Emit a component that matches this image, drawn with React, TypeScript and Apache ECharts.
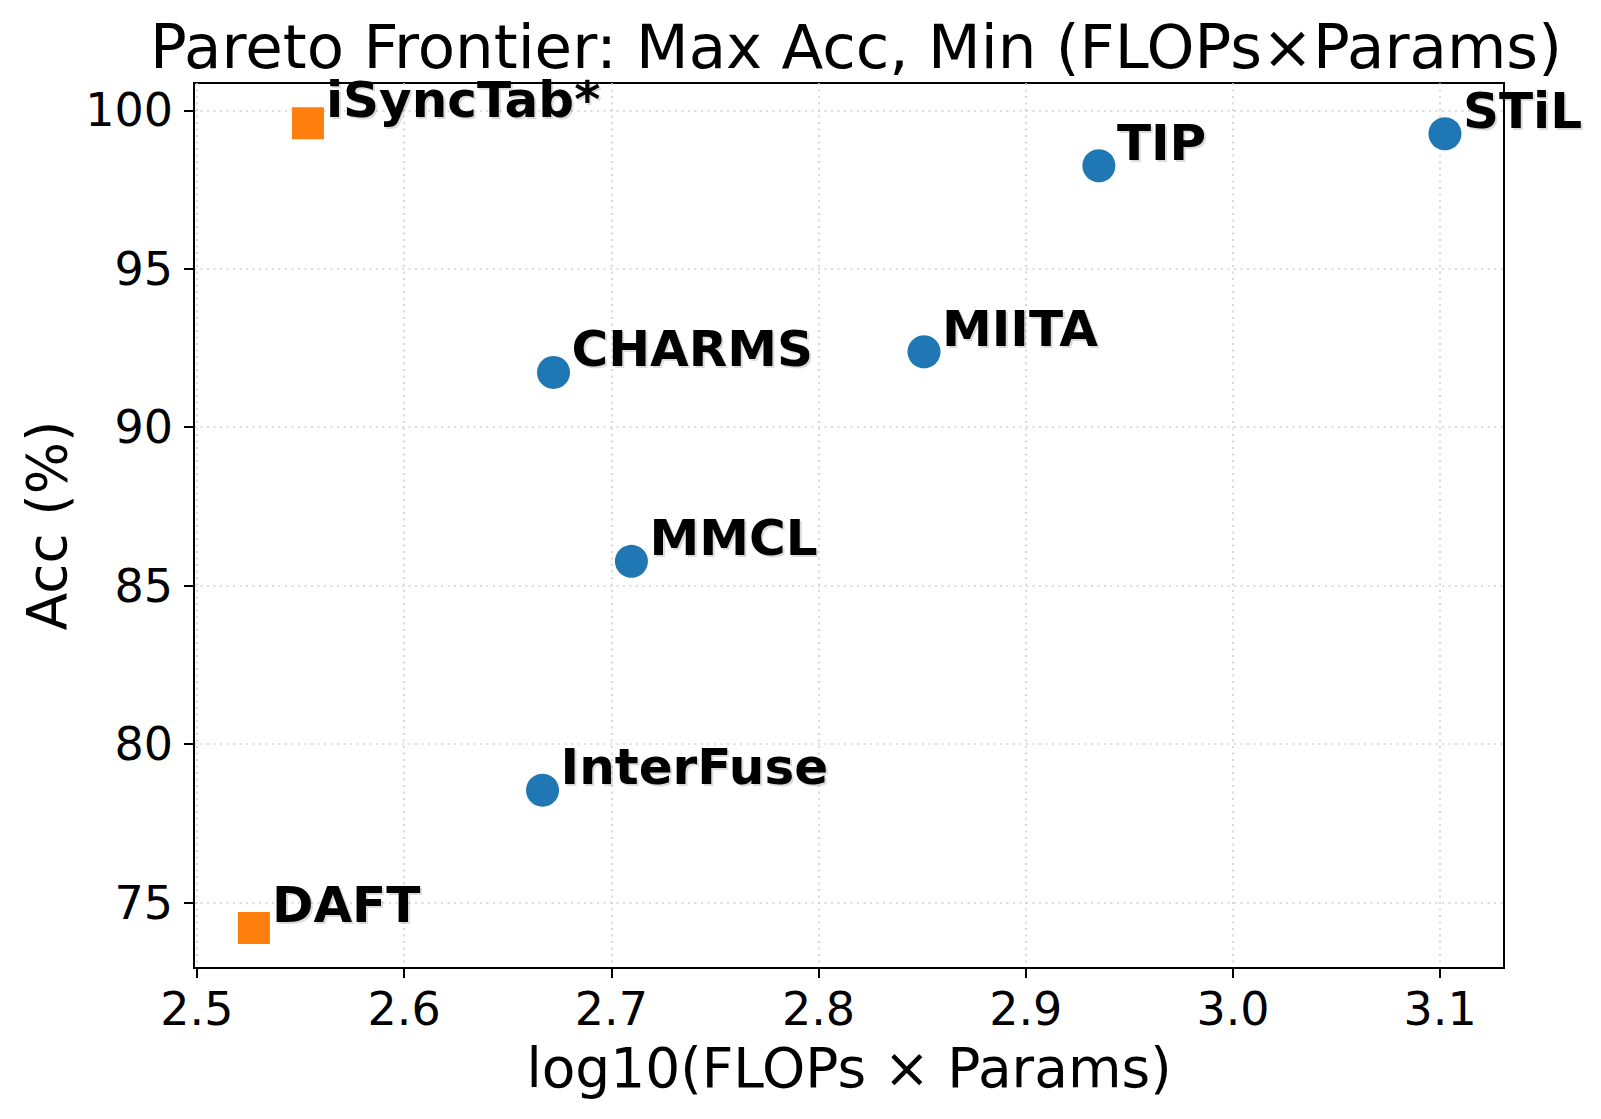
import { useEffect, useRef } from "react";
import * as echarts from "echarts";

// models, log10(FLOPs x Params) and accuracy
const modelNames = ["iSyncTab*", "DAFT", "STiL", "TIP", "MIITA", "CHARMS", "MMCL", "InterFuse"];
const logCost = [2.5536, 2.5275, 3.1023, 2.9353, 2.8509, 2.6721, 2.7097, 2.6668];
const accuracy = [99.59, 74.2, 99.26, 98.25, 92.38, 91.73, 85.77, 78.55];
const onFrontier = [true, true, false, false, false, false, false, false];

const xTicks = [2.5, 2.6, 2.7, 2.8, 2.9, 3.0, 3.1];
const yTicks = [75, 80, 85, 90, 95, 100];

const FONT = "DejaVu Sans";

function pointsFor(frontier: boolean) {
  const out: any[] = [];
  modelNames.forEach((name, i) => {
    if (onFrontier[i] === frontier) {
      out.push({ name, value: [logCost[i], accuracy[i]] });
    }
  });
  return out;
}

function labelStyle(size: number) {
  return {
    show: true,
    formatter: "{b}",
    position: [size / 2 + 18, size / 2 - 23],
    align: "left",
    verticalAlign: "middle",
    fontFamily: FONT,
    fontWeight: "bold",
    fontSize: 50,
    color: "#000",
    textShadowColor: "rgba(0,0,0,0.14)",
    textShadowBlur: 1,
    textShadowOffsetX: 2,
    textShadowOffsetY: 2,
  };
}

function App() {
  const chartRef = useRef<HTMLDivElement>(null);

  useEffect(() => {
    if (!chartRef.current) return;
    const myChart = echarts.init(chartRef.current, null, { renderer: "svg" });

    const option = {
      animation: false,
      backgroundColor: "#fff",
      title: {
        text: "Pareto Frontier: Max Acc, Min (FLOPs×Params)",
        left: 851,
        top: 11,
        textAlign: "center",
        textStyle: {
          fontFamily: FONT,
          fontWeight: "normal",
          fontSize: 61,
          color: "#000",
        },
      },
      grid: {
        left: 194,
        right: 97,
        top: 83,
        bottom: 151,
        show: true,
        borderColor: "#000",
        borderWidth: 2,
        outerBoundsMode: "none",
        containLabel: false,
      },
      xAxis: {
        type: "value",
        min: 2.4986,
        max: 3.1308,
        splitNumber: 6,
        name: "log10(FLOPs × Params)",
        nameLocation: "middle",
        nameGap: 72,
        nameTextStyle: { fontFamily: FONT, fontSize: 55, color: "#000" },
        axisLine: { show: true, lineStyle: { color: "#000", width: 2 } },
        axisTick: {
          show: true,
          length: 10,
          customValues: xTicks,
          lineStyle: { color: "#000", width: 2 },
        },
        axisLabel: {
          customValues: xTicks,
          margin: 18,
          fontFamily: FONT,
          fontSize: 46,
          color: "#000",
          formatter: (v: number) => v.toFixed(1),
        },
        splitLine: {
          show: true,
          lineStyle: { color: "#cfcfcf", width: 1.6, type: [2, 4.5] },
        },
      },
      yAxis: {
        type: "value",
        min: 72.94,
        max: 100.86,
        splitNumber: 5,
        name: "Acc (%)",
        nameLocation: "middle",
        nameGap: 120,
        nameTextStyle: { fontFamily: FONT, fontSize: 55, color: "#000" },
        axisLine: { show: true, lineStyle: { color: "#000", width: 2 } },
        axisTick: {
          show: true,
          length: 10,
          customValues: yTicks,
          lineStyle: { color: "#000", width: 2 },
        },
        axisLabel: {
          customValues: yTicks,
          margin: 21,
          fontFamily: FONT,
          fontSize: 46,
          color: "#000",
        },
        splitLine: {
          show: true,
          lineStyle: { color: "#cfcfcf", width: 1.6, type: [2, 4.5] },
        },
      },
      series: [
        {
          type: "scatter",
          name: "Dominated",
          symbol: "circle",
          symbolSize: 33,
          itemStyle: { color: "#1f77b4", opacity: 1 },
          label: labelStyle(33),
          data: pointsFor(false),
        },
        {
          type: "scatter",
          name: "Pareto",
          symbol: "rect",
          symbolSize: 32,
          itemStyle: { color: "#ff7f0e", opacity: 1 },
          label: labelStyle(32),
          data: pointsFor(true),
        },
      ],
    };

    myChart.setOption(option, true);

    return () => {
      myChart.dispose();
    };
  }, []);

  return (
    <div
      ref={chartRef}
      style={{ position: "fixed", left: 0, top: 0, width: "1601px", height: "1119px" }}
    />
  );
}

export default App;
